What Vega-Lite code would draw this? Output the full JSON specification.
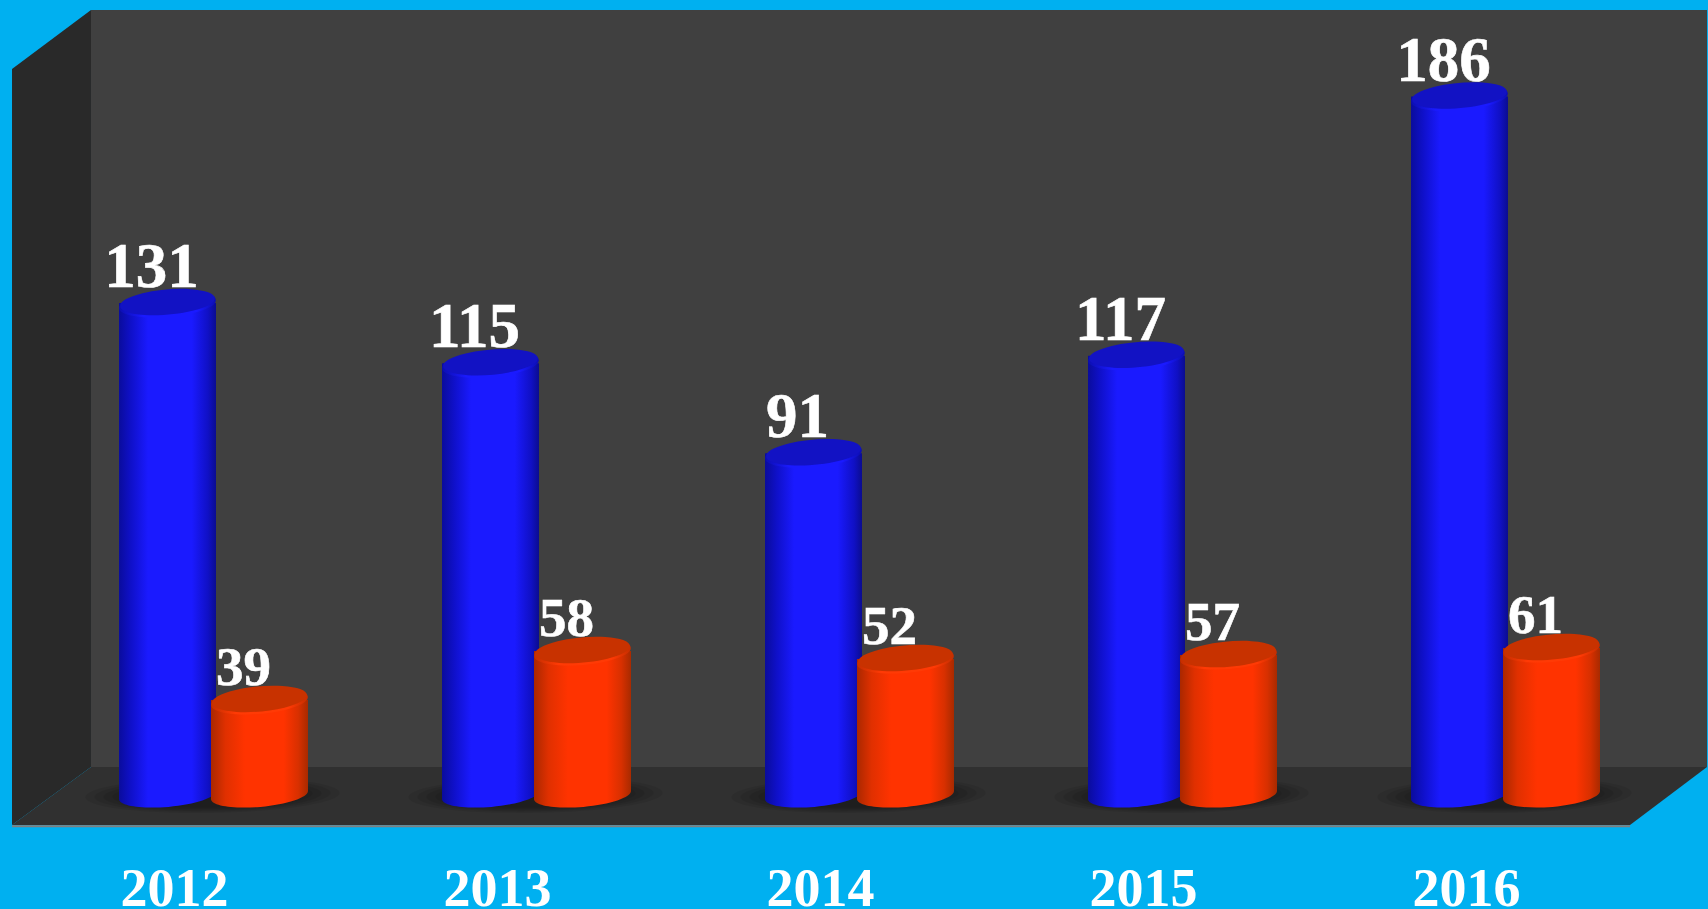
{
"$schema":"https://vega.github.io/schema/vega-lite/v6.json",
"width":1708,"height":909,"padding":0,"autosize":{"type":"none"},
"background":"#00B0F0",
"config":{"view":{"stroke":null}},
"datasets":{
"blue":[{"year":2012,"value":131},{"year":2013,"value":115},{"year":2014,"value":91},{"year":2015,"value":117},{"year":2016,"value":186}],
"red":[{"year":2012,"value":39,"drawn":38.8},{"year":2013,"value":58,"drawn":58.8},{"year":2014,"value":52,"drawn":55.5},{"year":2015,"value":57,"drawn":57.1},{"year":2016,"value":61,"drawn":60}],
"side":[{"year":2011.4985,"upper":193.34,"lower":-7.99},{"year":2011.743,"upper":209.05,"lower":7.46}],
"back":[{"year":2011.743,"upper":209.05,"lower":7.46},{"year":2016.7462,"upper":209.05,"lower":7.46}],
"floor":[{"year":2011.4985,"upper":-7.99,"lower":-7.99},{"year":2011.743,"upper":7.46,"lower":-7.99},{"year":2016.5078,"upper":7.46,"lower":-7.99},{"year":2016.7462,"upper":7.46,"lower":7.46}],
"edge":[{"year":2011.4985,"end":2016.5078,"level":-8.3}]
},
"encoding":{"x":{"field":"year","type":"quantitative","scale":{"domain":[2011.4613,2016.7492],"nice":false,"zero":false,"padding":0},
 "axis":{"orient":"bottom","offset":-34,"values":[2012,2013,2014,2015,2016],"format":"d","title":null,"domain":false,"ticks":false,"grid":false,"labelPadding":30,"labelFont":"Liberation Serif","labelFontWeight":"bold","labelFontSize":54,"labelColor":"#ffffff","labelBaseline":"alphabetic","labelOverlap":false,"labelFlush":false,"zindex":1}}},
"resolve":{"scale":{"y":"independent"}},
"layer":[
{"encoding":{"y":{"field":"upper","type":"quantitative","axis":null,"scale":{"domain":[-30.36,211.72],"nice":false,"zero":false}}},
 "layer":[
 {"data":{"name":"side"},"mark":{"type":"area","fill":"#292929","opacity":1},"encoding":{"y2":{"field":"lower"}}},
 {"data":{"name":"back"},"mark":{"type":"area","fill":"#404040","opacity":1},"encoding":{"y2":{"field":"lower"}}},
 {"data":{"name":"floor"},"mark":{"type":"area","fill":"#303030","opacity":1},"encoding":{"y2":{"field":"lower"}}},
 {"data":{"name":"edge"},"mark":{"type":"rule","color":"#808080","strokeWidth":2},"encoding":{"y":{"field":"level","type":"quantitative"},"x2":{"field":"end"}}}
 ]},
{"data":{"name":"blue"},
 "encoding":{"y":{"field":"value","type":"quantitative","axis":null,"scale":{"domain":[-30.36,211.72],"nice":false,"zero":false}}},
 "layer":[
 {"mark":{"type":"point","filled":true,"opacity":0.08,"fill":"#000000","size":64516,"xOffset":38.5,"shape":"M-0.999 0.01 A1 0.14 -1 1 0 0.999 -0.01 A1 0.14 -1 1 0 -0.999 0.01 Z"},"encoding":{"y":{"datum":0,"type":"quantitative"}}},
 {"mark":{"type":"point","filled":true,"opacity":0.08,"fill":"#000000","size":55696,"xOffset":38.5,"shape":"M-0.999 0.01 A1 0.14 -1 1 0 0.999 -0.01 A1 0.14 -1 1 0 -0.999 0.01 Z"},"encoding":{"y":{"datum":0,"type":"quantitative"}}},
 {"mark":{"type":"point","filled":true,"opacity":0.08,"fill":"#000000","size":47524,"xOffset":38.5,"shape":"M-0.999 0.01 A1 0.14 -1 1 0 0.999 -0.01 A1 0.14 -1 1 0 -0.999 0.01 Z"},"encoding":{"y":{"datum":0,"type":"quantitative"}}},
 {"mark":{"type":"point","filled":true,"opacity":0.08,"fill":"#000000","size":40000,"xOffset":38.5,"shape":"M-0.999 0.01 A1 0.14 -1 1 0 0.999 -0.01 A1 0.14 -1 1 0 -0.999 0.01 Z"},"encoding":{"y":{"datum":0,"type":"quantitative"}}},
 {"mark":{"type":"point","filled":true,"opacity":0.08,"fill":"#000000","size":32400,"xOffset":38.5,"shape":"M-0.999 0.01 A1 0.14 -1 1 0 0.999 -0.01 A1 0.14 -1 1 0 -0.999 0.01 Z"},"encoding":{"y":{"datum":0,"type":"quantitative"}}},
 {"mark":{"type":"point","filled":true,"opacity":1,"size":9409,"xOffset":-6.5,"shape":"M-1 -0.15 L-1 0.087 A1 0.245 -5 0 0 1 -0.087 L1 -0.15 Z","fill":{"gradient":"linear","x1":0,"y1":0,"x2":1,"y2":0,"stops":[{"offset":0,"color":"#0a0c9c"},{"offset":0.12,"color":"#0f10c8"},{"offset":0.3,"color":"#1a1aff"},{"offset":0.75,"color":"#1a1aff"},{"offset":0.92,"color":"#1010c4"},{"offset":1,"color":"#0b0c90"}]}},"encoding":{"y":{"datum":0,"type":"quantitative"}}},
 {"mark":{"type":"bar","size":97,"xOffset":-6.5,"fill":{"gradient":"linear","x1":0,"y1":0,"x2":1,"y2":0,"stops":[{"offset":0,"color":"#0a0c9c"},{"offset":0.12,"color":"#0f10c8"},{"offset":0.3,"color":"#1a1aff"},{"offset":0.75,"color":"#1a1aff"},{"offset":0.92,"color":"#1010c4"},{"offset":1,"color":"#0b0c90"}]}},"encoding":{"y2":{"datum":1.8}}},
 {"mark":{"type":"point","filled":true,"opacity":1,"size":9409,"xOffset":-6.5,"yOffset":1,"shape":"M-0.996 0.087 A1 0.26 -5 1 0 0.996 -0.087 A1 0.26 -5 1 0 -0.996 0.087 Z","fill":{"gradient":"linear","x1":0,"y1":0,"x2":1,"y2":0,"stops":[{"offset":0,"color":"#0c0eb0"},{"offset":0.25,"color":"#1a1aff"},{"offset":0.8,"color":"#1a1aff"},{"offset":1,"color":"#0c0eb0"}]}}},
 {"mark":{"type":"point","filled":true,"opacity":1,"size":9025,"xOffset":-6.5,"yOffset":-1,"shape":"M-0.996 0.087 A1 0.26 -5 1 0 0.996 -0.087 A1 0.26 -5 1 0 -0.996 0.087 Z","fill":"#1212c4"}},
 {"mark":{"type":"text","font":"Liberation Serif","fontWeight":"bold","fontSize":63,"color":"#ffffff","stroke":"#ffffff","strokeWidth":0.6,"baseline":"alphabetic","align":"center","xOffset":-6.5,"dx":-16,"dy":-16},"encoding":{"text":{"field":"value","type":"quantitative"}}}
 ]},
{"data":{"name":"red"},
 "encoding":{"y":{"field":"drawn","type":"quantitative","axis":null,"scale":{"domain":[-46.53,324.49],"nice":false,"zero":false}}},
 "layer":[
 {"mark":{"type":"point","filled":true,"opacity":1,"size":9409,"xOffset":85.5,"shape":"M-1 -0.15 L-1 0.087 A1 0.245 -5 0 0 1 -0.087 L1 -0.15 Z","fill":{"gradient":"linear","x1":0,"y1":0,"x2":1,"y2":0,"stops":[{"offset":0,"color":"#aa2800"},{"offset":0.15,"color":"#e03000"},{"offset":0.35,"color":"#ff3300"},{"offset":0.75,"color":"#ff3300"},{"offset":0.9,"color":"#d83000"},{"offset":1,"color":"#a82a00"}]}},"encoding":{"y":{"datum":0,"type":"quantitative"}}},
 {"mark":{"type":"bar","size":97,"xOffset":85.5,"fill":{"gradient":"linear","x1":0,"y1":0,"x2":1,"y2":0,"stops":[{"offset":0,"color":"#aa2800"},{"offset":0.15,"color":"#e03000"},{"offset":0.35,"color":"#ff3300"},{"offset":0.75,"color":"#ff3300"},{"offset":0.9,"color":"#d83000"},{"offset":1,"color":"#a82a00"}]}},"encoding":{"y2":{"datum":2.8}}},
 {"mark":{"type":"point","filled":true,"opacity":1,"size":9409,"xOffset":85.5,"yOffset":1,"shape":"M-0.996 0.087 A1 0.26 -5 1 0 0.996 -0.087 A1 0.26 -5 1 0 -0.996 0.087 Z","fill":{"gradient":"linear","x1":0,"y1":0,"x2":1,"y2":0,"stops":[{"offset":0,"color":"#c42e00"},{"offset":0.25,"color":"#ff3a05"},{"offset":0.8,"color":"#ff3a05"},{"offset":1,"color":"#c42e00"}]}}},
 {"mark":{"type":"point","filled":true,"opacity":1,"size":9025,"xOffset":85.5,"yOffset":-1,"shape":"M-0.996 0.087 A1 0.26 -5 1 0 0.996 -0.087 A1 0.26 -5 1 0 -0.996 0.087 Z","fill":"#c83200"}},
 {"mark":{"type":"text","font":"Liberation Serif","fontWeight":"bold","fontSize":55,"color":"#ffffff","stroke":"#ffffff","strokeWidth":0.6,"baseline":"alphabetic","align":"center","xOffset":85.5,"dx":-16,"dy":-15},"encoding":{"text":{"field":"value","type":"quantitative"}}}
 ]}
]
}
